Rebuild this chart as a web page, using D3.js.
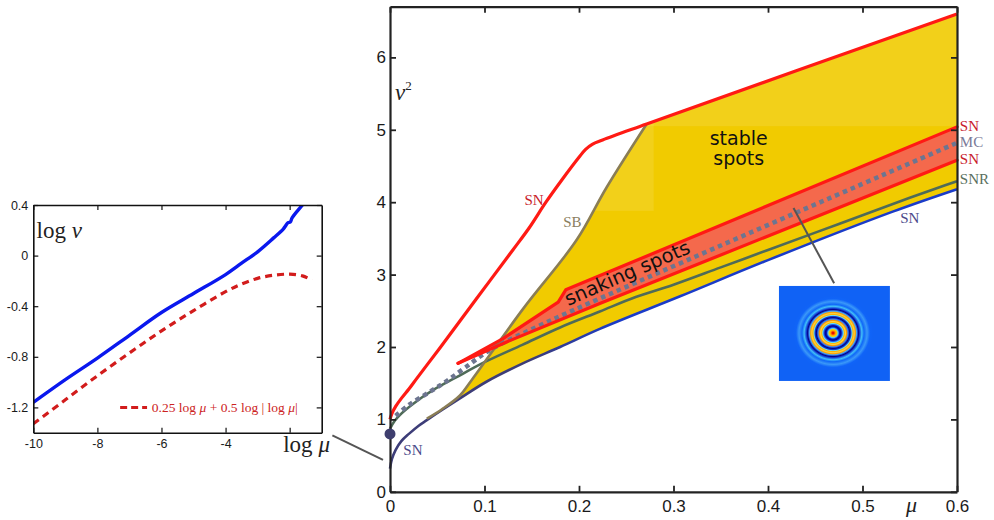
<!DOCTYPE html>
<html>
<head>
<meta charset="utf-8">
<script src="https://cdn.jsdelivr.net/npm/d3@7"></script>
<style>
body{margin:0;background:#fff;}
svg{display:block;}
.tick text{font-family:"Liberation Sans",Arial,sans-serif;fill:#1a1a1a;}
.serif{font-family:"Liberation Serif","Times New Roman",serif;}
</style>
</head>
<body>
<svg id="chart" width="994" height="520"></svg>
<script>
// ---------- main diagram data: [mu, nu^2] ----------
const muTicks = [0, 0.1, 0.2, 0.3, 0.4, 0.5, 0.6];
const nuTicks = [0, 1, 2, 3, 4, 5, 6];

// upper saddle-node (red)
const snTop = [[0,1.0],[0.002,1.08],[0.006,1.18],[0.012,1.29],[0.02,1.42],[0.028,1.56],[0.039,1.75],
  [0.053,1.99],[0.074,2.36],[0.106,2.92],[0.13,3.34],[0.147,3.64],[0.165,4.0],[0.182,4.31],
  [0.2,4.62],[0.207,4.73],[0.214,4.80],[0.225,4.86],[0.2716,5.08],[0.6,6.6]];
// snake boundary (olive)
const sb = [[0.039,1.01],[0.055,1.14],[0.074,1.33],[0.0865,1.545],[0.141,2.53],[0.1976,3.48],
  [0.229,4.2],[0.2716,5.08]];
// lower saddle-node (navy -> blue)
const snLow = [[0,0.32],[0.002,0.45],[0.006,0.58],[0.012,0.70],[0.02,0.80],[0.03,0.91],[0.039,0.99],
  [0.055,1.13],[0.074,1.29],[0.102,1.52],[0.14,1.77],[0.18,2.0],[0.222,2.25],[0.307,2.70],
  [0.4,3.2],[0.532,3.87],[0.6,4.18]];
// snaking wedge, upper and lower saddle-nodes
const snakeUp = [[0.072,1.775],[0.12,2.12],[0.178,2.62],[0.186,2.79],[0.6,5.04]];
const snakeLo = [[0.072,1.775],[0.1235,2.07],[0.222,2.60],[0.6,4.58]];
// Maxwell curve (dotted)
const mc = [[0.006,1.05],[0.02,1.2],[0.042,1.38],[0.06,1.53],[0.08,1.72],[0.106,1.96],
  [0.159,2.30],[0.222,2.67],[0.6,4.82]];
// SNR (green grey)
const snr = [[0,0.87],[0.005,0.98],[0.012,1.08],[0.025,1.22],[0.045,1.40],[0.07,1.58],[0.1,1.79],
  [0.14,2.03],[0.18,2.27],[0.222,2.49],[0.26,2.69],[0.3,2.86],[0.35,3.1],[0.4,3.34],[0.45,3.58],
  [0.5,3.82],[0.55,4.06],[0.58,4.2],[0.6,4.29]];
const codim2 = [0, 0.8];

// ---------- inset data: [log mu, log nu] ----------
const insetXTicks = [-10, -8, -6, -4, -2];
const insetXLabels = ['-10', '-8', '-6', '-4', ''];
const insetYTicks = [-1.2, -0.8, -0.4, 0, 0.4];
const insetYLabels = ['-1.2', '-0.8', '-0.4', '0', '0.4'];
const logNu = [[-10,-1.16],[-9,-0.98],[-8,-0.81],[-7,-0.63],[-6,-0.45],[-5,-0.30],[-4,-0.15],
  [-3.5,-0.06],[-3,0.03],[-2.5,0.14],[-2.2,0.21],[-2.05,0.26],[-1.98,0.265],[-1.92,0.30],
  [-1.57,0.41],[-1.45,0.45]];
const logNuFit = [[-10,-1.33],[-9,-1.14],[-8,-0.95],[-7,-0.77],[-6,-0.595],[-5,-0.435],[-4,-0.285],
  [-3.5,-0.225],[-3,-0.18],[-2.5,-0.155],[-2,-0.147],[-1.6,-0.16],[-1.3,-0.195]];

const svg = d3.select('#chart');
const defs = svg.append('defs');

// ---------- main scales ----------
const x = d3.scaleLinear().domain([0, 0.6]).range([390, 957]);
const y = d3.scaleLinear().domain([0, 6.7]).range([491.8, 6.7]);

const curve = d3.line().x(d => x(d[0])).y(d => y(d[1])).curve(d3.curveCatmullRom.alpha(0.5));
const straight = d3.line().x(d => x(d[0])).y(d => y(d[1]));
const join = parts => parts.map((p, i) => i ? p.replace(/^M/, 'L') : p).join('') + 'Z';

const grad = defs.append('linearGradient').attr('id', 'lowGrad')
  .attr('gradientUnits', 'userSpaceOnUse')
  .attr('x1', x(0.15)).attr('x2', x(0.24)).attr('y1', 0).attr('y2', 0);
grad.append('stop').attr('offset', 0).attr('stop-color', '#3d3d78');
grad.append('stop').attr('offset', 1).attr('stop-color', '#1b3cc8');

const main = svg.append('g');

// yellow stable region
const yellowPath = join([
  curve(snLow.filter(d => d[0] >= 0.039)),
  straight([[0.6, 4.18], [0.6, 6.6]]),
  straight(snTop.filter(d => d[0] >= 0.2716).reverse()),
  curve(sb.slice().reverse())
]);
defs.append('clipPath').attr('id', 'yellowClip').append('path').attr('d', yellowPath);
main.append('path').attr('d', yellowPath).attr('fill', '#f1cb00');
// lighter patches of the scanned figure
[[0.2, 0.6, 5.05, 6.7], [0.2, 0.279, 3.88, 6.7]].forEach(r => {
  main.append('rect').attr('clip-path', 'url(#yellowClip)')
    .attr('x', x(r[0])).attr('y', y(r[3]))
    .attr('width', x(r[1]) - x(r[0])).attr('height', y(r[2]) - y(r[3]))
    .attr('fill', '#fff').attr('opacity', 0.1);
});

// snaking wedge
main.append('path')
  .attr('d', join([straight(snakeUp), straight(snakeLo.slice().reverse())]))
  .attr('fill', '#f4694c');

main.append('path').attr('d', curve(snLow)).attr('fill', 'none')
  .attr('stroke', 'url(#lowGrad)').attr('stroke-width', 2.6);
main.append('path').attr('d', curve(snr)).attr('fill', 'none')
  .attr('stroke', '#4f6b58').attr('stroke-width', 2.6);
main.append('path').attr('d', curve(mc)).attr('fill', 'none')
  .attr('stroke', '#6d7590').attr('stroke-width', 4.5).attr('stroke-dasharray', '4.5,4');
main.append('path').attr('d', curve(sb)).attr('fill', 'none')
  .attr('stroke', '#8a7d55').attr('stroke-width', 2.6);
[snakeUp, snakeLo].forEach(s => {
  main.append('path').attr('d', straight(s)).attr('fill', 'none')
    .attr('stroke', '#ff1a14').attr('stroke-width', 3.2)
    .attr('stroke-linecap', 'round').attr('stroke-linejoin', 'round');
});
main.append('path').attr('d', curve(snTop)).attr('fill', 'none')
  .attr('stroke', '#ff1a14').attr('stroke-width', 3.2);

// ---------- main axes ----------
const fmtMu = d => d === 0 ? '0' : d3.format('.1f')(d);
const ax = svg.append('g').attr('class', 'axes');
ax.append('g').attr('transform', `translate(0,${y(0)})`)
  .call(d3.axisBottom(x).tickValues(muTicks).tickFormat(fmtMu).tickSizeInner(-6).tickSizeOuter(0).tickPadding(8));
ax.append('g').attr('transform', `translate(0,${y(6.7)})`)
  .call(d3.axisTop(x).tickValues(muTicks).tickFormat('').tickSizeInner(-6).tickSizeOuter(0));
ax.append('g').attr('transform', `translate(${x(0)},0)`)
  .call(d3.axisLeft(y).tickValues(nuTicks).tickFormat(d3.format('d')).tickSizeInner(-6).tickSizeOuter(0).tickPadding(4));
ax.append('g').attr('transform', `translate(${x(0.6)},0)`)
  .call(d3.axisRight(y).tickValues(nuTicks).tickFormat('').tickSizeInner(-6).tickSizeOuter(0));
ax.selectAll('.domain').attr('stroke', '#222').attr('stroke-width', 2.2);
ax.selectAll('.tick line').attr('stroke', '#222').attr('stroke-width', 1.8);
ax.selectAll('.tick text').attr('font-size', 17);

// axis titles
const nuLab = svg.append('text').attr('class', 'serif').attr('x', 395).attr('y', 100)
  .attr('font-size', 23).attr('fill', '#222');
nuLab.append('tspan').attr('font-style', 'italic').text('ν');
nuLab.append('tspan').attr('font-size', 13).attr('dy', -10).text('2');
svg.append('text').attr('class', 'serif').attr('x', 906).attr('y', 512)
  .attr('font-size', 22).attr('font-style', 'italic').attr('fill', '#222').text('μ');

// ---------- curve labels ----------
const labels = [
  {t: 'SN', mu: 0.1524, nu: 4.03, c: '#c8202a', a: 'middle'},
  {t: 'SB', mu: 0.193, nu: 3.73, c: '#8a8060', a: 'middle'},
  {t: 'SN', mu: 0.603, nu: 5.05, c: '#c8202a', a: 'start'},
  {t: 'MC', mu: 0.603, nu: 4.825, c: '#7a7a98', a: 'start'},
  {t: 'SN', mu: 0.603, nu: 4.6, c: '#c8202a', a: 'start'},
  {t: 'SNR', mu: 0.603, nu: 4.32, c: '#5a705e', a: 'start'},
  {t: 'SN', mu: 0.550, nu: 3.78, c: '#4a4a8a', a: 'middle'},
  {t: 'SN', mu: 0.0243, nu: 0.58, c: '#4a4a8a', a: 'middle'}
];
svg.selectAll('.clab').data(labels).join('text').attr('class', 'clab serif')
  .attr('x', d => x(d.mu)).attr('y', d => y(d.nu))
  .attr('text-anchor', d => d.a).attr('dominant-baseline', 'central')
  .attr('font-size', 15).attr('fill', d => d.c).text(d => d.t);

// region labels
const sans = '"DejaVu Sans", Verdana, sans-serif';
[['stable', 4.79], ['spots', 4.51]].forEach(r => {
  svg.append('text').attr('x', x(0.369)).attr('y', y(r[1])).attr('text-anchor', 'middle')
    .attr('font-family', sans).attr('font-size', 19).attr('fill', '#111').text(r[0]);
});
svg.append('text').attr('transform', `translate(${x(0.1886)},${y(2.566)}) rotate(-23.5)`)
  .attr('font-family', sans).attr('font-size', 19.5).attr('fill', '#111').text('snaking spots');

// ---------- spot picture ----------
const rg = defs.append('radialGradient').attr('id', 'spot');
const ringStops = [[0,'#b00000'],[1.2,'#ff2000'],[2.5,'#ffa000'],[3.8,'#ffd200'],[5,'#50c8ff'],
  [6.5,'#0018c0'],[7.8,'#000090'],[9.2,'#2060f0'],[10.3,'#60e0ff'],[11.2,'#ffb000'],[12.4,'#ffd840'],
  [13.6,'#ff9800'],[15,'#3080ff'],[16.6,'#000088'],[18,'#1040d0'],[19,'#70e0f0'],[20,'#ffb000'],
  [21.2,'#f8d040'],[22.4,'#ffa000'],[23.6,'#40a8ff'],[25.4,'#000090'],[27,'#1850e0'],
  [28.8,'#40c0f8'],[31,'#1068f8'],[34,'#3a98f8'],[37,'#1064f8'],[40,'#1062f5']];
ringStops.forEach(s => rg.append('stop').attr('offset', s[0] / 40).attr('stop-color', s[1]));

svg.append('line').attr('x1', x(0.427)).attr('y1', y(3.92)).attr('x2', x(0.47)).attr('y2', y(2.88))
  .attr('stroke', '#555').attr('stroke-width', 2);
svg.append('rect').attr('x', x(0.4116)).attr('y', y(2.843))
  .attr('width', x(0.529) - x(0.4116)).attr('height', y(1.531) - y(2.843)).attr('fill', '#1062f5');
svg.append('ellipse').attr('cx', x(0.4688)).attr('cy', y(2.193)).attr('rx', 40).attr('ry', 37)
  .attr('fill', 'url(#spot)');

// ---------- inset ----------
const xi = d3.scaleLinear().domain([-10, -1]).range([33.3, 321.7]);
const yi = d3.scaleLinear().domain([-1.4, 0.4]).range([432.7, 205]);
const li = d3.line().x(d => xi(d[0])).y(d => yi(d[1])).curve(d3.curveCatmullRom.alpha(0.5));

defs.append('clipPath').attr('id', 'insetClip').append('rect')
  .attr('x', xi(-10)).attr('y', yi(0.4)).attr('width', xi(-1) - xi(-10)).attr('height', yi(-1.4) - yi(0.4));
const inset = svg.append('g');
const plot = inset.append('g').attr('clip-path', 'url(#insetClip)');
plot.append('path').attr('d', li(logNuFit)).attr('fill', 'none')
  .attr('stroke', '#d21c1c').attr('stroke-width', 3.2).attr('stroke-dasharray', '7,5');
plot.append('path').attr('d', li(logNu)).attr('fill', 'none')
  .attr('stroke', '#0a18ee').attr('stroke-width', 3.4);

const iax = inset.append('g');
iax.append('g').attr('transform', `translate(0,${yi(-1.4)})`)
  .call(d3.axisBottom(xi).tickValues(insetXTicks).tickFormat((d, i) => insetXLabels[i])
    .tickSizeInner(-5).tickSizeOuter(0).tickPadding(6));
iax.append('g').attr('transform', `translate(0,${yi(0.4)})`)
  .call(d3.axisTop(xi).tickValues(insetXTicks).tickFormat('').tickSizeInner(-5).tickSizeOuter(0));
iax.append('g').attr('transform', `translate(${xi(-10)},0)`)
  .call(d3.axisLeft(yi).tickValues(insetYTicks).tickFormat((d, i) => insetYLabels[i])
    .tickSizeInner(-5).tickSizeOuter(0).tickPadding(5));
iax.append('g').attr('transform', `translate(${xi(-1)},0)`)
  .call(d3.axisRight(yi).tickValues(insetYTicks).tickFormat('').tickSizeInner(-5).tickSizeOuter(0));
iax.selectAll('.domain').attr('stroke', '#111').attr('stroke-width', 1.6);
iax.selectAll('.tick line').attr('stroke', '#111').attr('stroke-width', 1.2);
iax.selectAll('.tick text').attr('font-size', 12.5).attr('fill', '#000');

const lnu = inset.append('text').attr('class', 'serif').attr('x', xi(-9.9)).attr('y', 238)
  .attr('font-size', 23).attr('fill', '#222');
lnu.append('tspan').text('log ');
lnu.append('tspan').attr('font-style', 'italic').text('ν');
const lmu = inset.append('text').attr('class', 'serif').attr('x', xi(-2.2)).attr('y', 452)
  .attr('font-size', 23).attr('fill', '#222');
lmu.append('tspan').text('log ');
lmu.append('tspan').attr('font-style', 'italic').text('μ');

// legend
inset.append('line').attr('x1', xi(-7.29)).attr('x2', xi(-6.45)).attr('y1', yi(-1.2)).attr('y2', yi(-1.2))
  .attr('stroke', '#d21c1c').attr('stroke-width', 3).attr('stroke-dasharray', '7,4');
const leg = inset.append('text').attr('class', 'serif').attr('x', xi(-6.3)).attr('y', yi(-1.2))
  .attr('dominant-baseline', 'central').attr('font-size', 13.5).attr('fill', '#cc2222');
leg.append('tspan').text('0.25 log ');
leg.append('tspan').attr('font-style', 'italic').text('μ');
leg.append('tspan').text(' + 0.5 log | log ');
leg.append('tspan').attr('font-style', 'italic').text('μ');
leg.append('tspan').text('|');

// connector from inset to the codimension-two point
svg.append('line').attr('x1', x(-0.061)).attr('y1', y(0.78)).attr('x2', x(-0.0074)).attr('y2', y(0.44))
  .attr('stroke', '#555').attr('stroke-width', 2);
svg.append('circle').attr('cx', x(codim2[0])).attr('cy', y(codim2[1])).attr('r', 5.5)
  .attr('fill', '#3e3e6e');
</script>
</body>
</html>
